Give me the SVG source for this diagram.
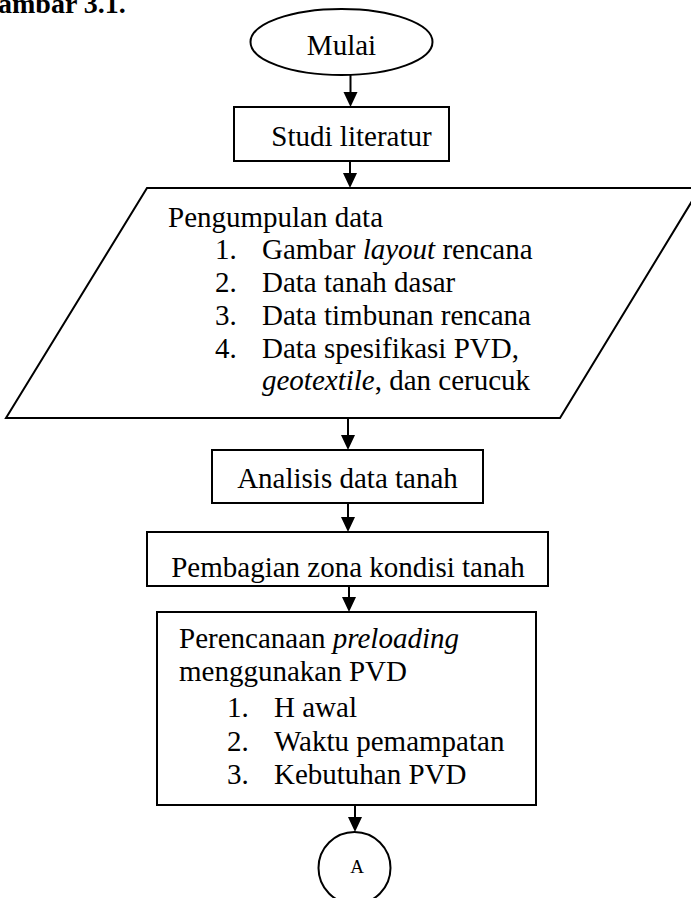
<svg xmlns="http://www.w3.org/2000/svg" width="691" height="898" viewBox="0 0 691 898">
<defs>
<style>
.c{text-anchor:middle}
.i{font-style:italic}
.s{fill:#fff;stroke:#000;stroke-width:2}
.e{stroke:#000;stroke-width:2;fill:none}
</style>
<marker id="ah" markerUnits="userSpaceOnUse" markerWidth="16" markerHeight="16" refX="11" refY="7" orient="auto">
<path d="M0,0 L15,7 L0,14 Z" fill="#000"/>
</marker>
</defs>
<rect width="691" height="898" fill="#fff"/>
<g font-family="Liberation Serif, Times New Roman, serif" font-size="29" fill="#000">
<text x="-2" y="13" font-size="28" font-weight="bold">ambar 3.1.</text>

<g id="edges">
<line class="e" x1="350.5" y1="75" x2="350.5" y2="103" marker-end="url(#ah)"/>
<line class="e" x1="350" y1="161" x2="350" y2="184" marker-end="url(#ah)"/>
<line class="e" x1="348" y1="418" x2="348" y2="446" marker-end="url(#ah)"/>
<line class="e" x1="348" y1="503" x2="348" y2="528" marker-end="url(#ah)"/>
<line class="e" x1="349" y1="586" x2="349" y2="608" marker-end="url(#ah)"/>
<line class="e" x1="355" y1="805" x2="355" y2="828" marker-end="url(#ah)"/>
</g>

<g id="mulai">
<ellipse class="s" cx="341.5" cy="42" rx="91" ry="33"/>
<text class="c" x="341.5" y="55">Mulai</text>
</g>

<g id="studi">
<rect class="s" x="234" y="107" width="215" height="54"/>
<text class="c" x="351.5" y="146">Studi literatur</text>
</g>

<g id="pengumpulan">
<polygon class="s" points="147,188 700,188 560,418 6,418"/>
<text x="168" y="227">Pengumpulan data</text>
<text x="215" y="259">1.</text>
<text x="262" y="259">Gambar <tspan class="i">layout</tspan> rencana</text>
<text x="215" y="292">2.</text>
<text x="262" y="292">Data tanah dasar</text>
<text x="215" y="325">3.</text>
<text x="262" y="325">Data timbunan rencana</text>
<text x="215" y="358">4.</text>
<text x="262" y="358">Data spesifikasi PVD,</text>
<text x="262" y="390"><tspan class="i">geotextile</tspan>, dan cerucuk</text>
</g>

<g id="analisis">
<rect class="s" x="212" y="450" width="271" height="53"/>
<text class="c" x="347.5" y="488">Analisis data tanah</text>
</g>

<g id="pembagian">
<rect class="s" x="147" y="532" width="401" height="54"/>
<text class="c" x="348" y="577">Pembagian zona kondisi tanah</text>
</g>

<g id="perencanaan">
<rect class="s" x="157" y="612" width="379" height="193"/>
<text x="179" y="648">Perencanaan <tspan class="i">preloading</tspan></text>
<text x="179" y="681">menggunakan PVD</text>
<text x="227" y="717">1.</text>
<text x="274" y="717">H awal</text>
<text x="227" y="751">2.</text>
<text x="274" y="751">Waktu pemampatan</text>
<text x="227" y="784">3.</text>
<text x="274" y="784">Kebutuhan PVD</text>
</g>

<g id="a">
<ellipse class="s" cx="354.5" cy="868" rx="36" ry="36"/>
<text class="c" x="357" y="873" font-size="19">A</text>
</g>
</g>
</svg>
